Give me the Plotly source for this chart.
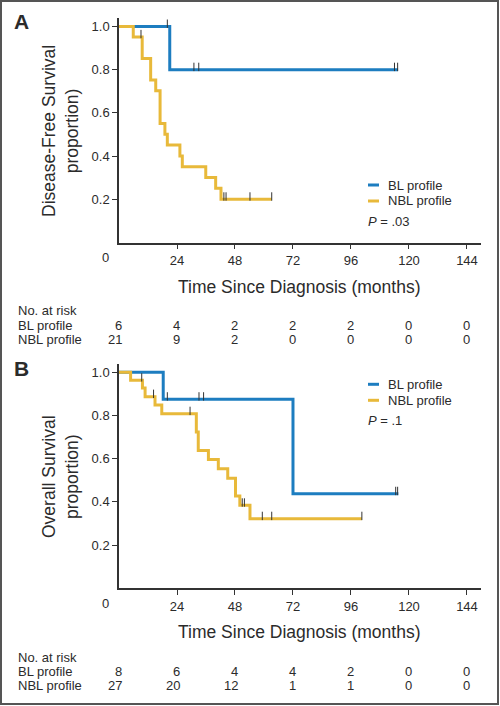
import plotly.graph_objects as go

W, H = 500, 706

# ---------------- data ----------------
month_ticks = [24, 48, 72, 96, 120, 144]
risk_times = [0, 24, 48, 72, 96, 120, 144]
surv_ticks = [0.2, 0.4, 0.6, 0.8, 1.0]
surv_ticklabels = ["0.2", "0.4", "0.6", "0.8", "1.0"]

# Panel A: disease-free survival
dfs_bl_t = [0, 21, 115.5]
dfs_bl_s = [1.0, 0.8, 0.8]
dfs_bl_cens_t = [20, 31, 33, 114, 115.3]
dfs_bl_cens_s = [1.0, 0.8, 0.8, 0.8, 0.8]

dfs_nbl_t = [0, 5.9, 9.6, 13.1, 15.2, 17, 19, 20, 25.2, 26.2, 35.9, 40, 42.2, 63.2]
dfs_nbl_s = [1.0, 0.952, 0.852, 0.752, 0.702, 0.551, 0.501, 0.451, 0.401, 0.351, 0.301, 0.251, 0.2, 0.2]
dfs_nbl_cens_t = [9.1, 43.4, 44.3, 54.2, 63.2]
dfs_nbl_cens_s = [0.952, 0.2, 0.2, 0.2, 0.2]

risk_a_bl = [6, 4, 2, 2, 2, 0, 0]
risk_a_nbl = [21, 9, 2, 0, 0, 0, 0]

# Panel B: overall survival
os_bl_t = [0, 18.3, 72, 115.6]
os_bl_s = [1.0, 0.875, 0.4375, 0.4375]
os_bl_cens_t = [20, 33.1, 35, 114.5, 115.3]
os_bl_cens_s = [0.875, 0.875, 0.875, 0.4375, 0.4375]

os_nbl_t = [0, 4.8, 9.7, 10.8, 14.9, 17.7, 32, 32.8, 37, 41.1, 45, 48.2, 50, 54.2, 100.5]
os_nbl_s = [1.0, 0.963, 0.927, 0.887, 0.848, 0.808, 0.723, 0.638, 0.596, 0.553, 0.509, 0.427, 0.384, 0.322, 0.322]
os_nbl_cens_t = [9.4, 14.3, 29.4, 51, 51.9, 59.3, 63.2, 100.5]
os_nbl_cens_s = [0.963, 0.887, 0.808, 0.384, 0.384, 0.322, 0.322, 0.322]

risk_b_bl = [8, 6, 4, 4, 2, 0, 0]
risk_b_nbl = [27, 20, 12, 1, 1, 0, 0]

group_names = ["BL profile", "NBL profile"]
p_values = ["<i>P</i> = .03", "<i>P</i> = .1"]

# ---------------- style ----------------
BLUE = "#1d7dc0"
GOLD = "#e8b93a"
TXT = "#2b2b2b"
AX = "#333333"
FONT = "Liberation Sans, Arial, sans-serif"
CENS_OFF = 0.013


def px(x):
    return x / W


def py(y):
    return 1 - y / H


fig = go.Figure()


def add_panel(xa, ya, bl_t, bl_s, blc_t, blc_s, nbl_t, nbl_s, nblc_t, nblc_s):
    fig.add_trace(go.Scatter(x=bl_t, y=bl_s, mode="lines", line=dict(color=BLUE, width=3, shape="hv"),
                             xaxis=xa, yaxis=ya, showlegend=False, hoverinfo="skip"))
    fig.add_trace(go.Scatter(x=nbl_t, y=nbl_s, mode="lines", line=dict(color=GOLD, width=3, shape="hv"),
                             xaxis=xa, yaxis=ya, showlegend=False, hoverinfo="skip"))
    for ct, cs in ((blc_t, blc_s), (nblc_t, nblc_s)):
        fig.add_trace(go.Scatter(x=ct, y=[v + CENS_OFF for v in cs], mode="markers",
                                 marker=dict(symbol="line-ns", size=6, line=dict(color=AX, width=1)),
                                 xaxis=xa, yaxis=ya, showlegend=False, hoverinfo="skip"))


add_panel("x", "y", dfs_bl_t, dfs_bl_s, dfs_bl_cens_t, dfs_bl_cens_s,
          dfs_nbl_t, dfs_nbl_s, dfs_nbl_cens_t, dfs_nbl_cens_s)
add_panel("x2", "y2", os_bl_t, os_bl_s, os_bl_cens_t, os_bl_cens_s,
          os_nbl_t, os_nbl_s, os_nbl_cens_t, os_nbl_cens_s)

xdom = [px(119), px(481)]
xrange = [0, 149.8]
common_x = dict(range=xrange, domain=xdom, showline=True, linecolor=AX, linewidth=1.5,
                ticks="outside", ticklen=5, tickwidth=1, tickcolor=AX,
                tickvals=month_ticks, ticktext=[str(v) for v in month_ticks],
                tickfont=dict(size=13, color=TXT, family=FONT),
                showgrid=False, zeroline=False, fixedrange=True)
common_y = dict(range=[0, 1.038], showline=True, linecolor=AX, linewidth=1.5,
                ticks="outside", ticklen=5, tickwidth=1, tickcolor=AX,
                tickvals=surv_ticks, ticktext=surv_ticklabels,
                tickfont=dict(size=13, color=TXT, family=FONT),
                showgrid=False, zeroline=False, fixedrange=True)

ann = []
shapes = []


def text(x, y, s, size=13, anchor="left", **kw):
    ann.append(dict(x=x, y=y, xref="paper", yref="paper", text=s, showarrow=False,
                    xanchor=anchor, yanchor="middle",
                    font=dict(size=size, color=TXT, family=FONT), **kw))


def panel_decor(label, lab_y, ytitle, ytitle_y, xtitle_y, zero_y, leg_y, risk_y, risk_bl, risk_nbl, xref, pval):
    text(px(21), py(lab_y), "<b>" + label + "</b>", size=21, anchor="center")
    text(px(60), py(ytitle_y), ytitle, size=17.5, anchor="center", textangle=-90)
    text(px(299), py(xtitle_y), "Time Since Diagnosis (months)", size=17.5, anchor="center")
    text(px(105), py(zero_y), "0", size=13, anchor="center")
    # legend
    for i, (name, col) in enumerate(zip(group_names, (BLUE, GOLD))):
        yy = leg_y + 16 * i
        shapes.append(dict(type="line", xref="paper", yref="paper", x0=px(368), x1=px(379),
                           y0=py(yy), y1=py(yy), line=dict(color=col, width=3)))
        text(px(386), py(yy), name)
    text(px(366), py(leg_y + 36.5), pval)
    # at-risk table
    text(px(16), py(risk_y), "No. at risk")
    text(px(16), py(risk_y + 14), group_names[0])
    text(px(16), py(risk_y + 28), group_names[1])
    for row, vals in enumerate((risk_bl, risk_nbl)):
        for t, v in zip(risk_times, vals):
            ann.append(dict(x=t, y=py(risk_y + 14 * (row + 1)), xref=xref, yref="paper", text=str(v),
                            showarrow=False, xanchor="right", yanchor="middle", xshift=5,
                            font=dict(size=13, color=TXT, family=FONT)))


panel_decor("A", 22, "Disease-Free Survival<br>proportion)", 131, 287, 257, 185, 311,
            risk_a_bl, risk_a_nbl, "x", p_values[0])
panel_decor("B", 368, "Overall Survival<br>proportion)", 477, 632, 603, 384.3, 657,
            risk_b_bl, risk_b_nbl, "x2", p_values[1])

# outer frame
shapes.append(dict(type="rect", xref="paper", yref="paper", x0=px(1), x1=px(498), y0=py(704), y1=py(1),
                   line=dict(color="#555555", width=2), fillcolor="rgba(0,0,0,0)"))

fig.update_layout(
    width=W, height=H,
    margin=dict(l=0, r=0, t=0, b=0),
    paper_bgcolor="white", plot_bgcolor="white",
    font=dict(family=FONT, color=TXT),
    xaxis=dict(**common_x, anchor="y"),
    yaxis=dict(**common_y, domain=[py(242.5), py(18.3)], anchor="x"),
    xaxis2=dict(**common_x, anchor="y2"),
    yaxis2=dict(**common_y, domain=[py(588.3), py(364)], anchor="x2"),
    annotations=ann,
    shapes=shapes,
    showlegend=False,
)

fig.write_html("out.html", config={"displayModeBar": False},
               post_script="document.body.style.margin='0';")
